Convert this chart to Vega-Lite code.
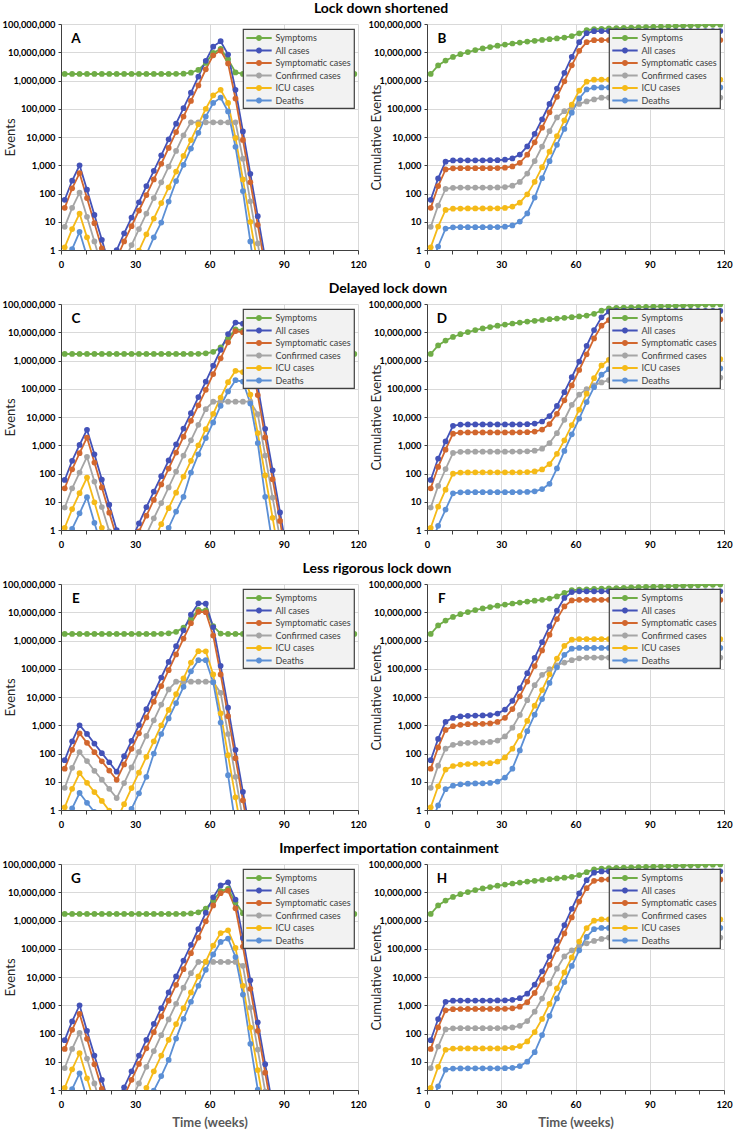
{
"$schema": "https://vega.github.io/schema/vega-lite/v6.json",
"background": "white",
"padding": {"left": 2, "top": 2, "right": 0, "bottom": 0},
"columns": 2,
"spacing": {"row": 54, "column": 69},
"bounds": "flush",
"resolve": {"legend": {"color": "independent"}},
"datasets": {
"A": [
{"w":1.5,"symptoms":1.7e6,"all":60,"symptomatic":31,"confirmed":6.6,"icu":1.24,"deaths":0.25},
{"w":4.5,"symptoms":1.7e6,"all":283,"symptomatic":152,"confirmed":31,"icu":5.5,"deaths":1.08},
{"w":7.5,"symptoms":1.7e6,"all":1000,"symptomatic":525,"confirmed":107,"icu":19.5,"deaths":4.4},
{"w":10.5,"symptoms":1.7e6,"all":136,"symptomatic":69,"confirmed":15,"icu":2.8,"deaths":0.6},
{"w":13.5,"symptoms":1.7e6,"all":17.5,"symptomatic":8.9,"confirmed":2,"icu":0.4,"deaths":0.08},
{"w":16.5,"symptoms":1.7e6,"all":2.3,"symptomatic":1.15,"confirmed":0.25,"icu":0.06,"deaths":0.01},
{"w":19.5,"symptoms":1.7e6,"all":0.3,"symptomatic":0.3,"confirmed":0.05,"icu":0.01,"deaths":0.005},
{"w":22.5,"symptoms":1.7e6,"all":1,"symptomatic":0.5,"confirmed":0.1,"icu":0.02,"deaths":0.005},
{"w":25.5,"symptoms":1.7e6,"all":3.9,"symptomatic":2,"confirmed":0.4,"icu":0.07,"deaths":0.01},
{"w":28.5,"symptoms":1.7e6,"all":14,"symptomatic":7,"confirmed":1.5,"icu":0.26,"deaths":0.05},
{"w":31.5,"symptoms":1.7e6,"all":49,"symptomatic":25,"confirmed":5.5,"icu":0.95,"deaths":0.2},
{"w":34.5,"symptoms":1.7e6,"all":183,"symptomatic":88,"confirmed":19.5,"icu":3.6,"deaths":0.7},
{"w":37.5,"symptoms":1.7e6,"all":635,"symptomatic":315,"confirmed":69,"icu":13,"deaths":2.8},
{"w":40.5,"symptoms":1.7e6,"all":2250,"symptomatic":1130,"confirmed":250,"icu":46,"deaths":9.4},
{"w":43.5,"symptoms":1.7e6,"all":8300,"symptomatic":4100,"confirmed":900,"icu":165,"deaths":52},
{"w":46.5,"symptoms":1.72e6,"all":29500,"symptomatic":15000,"confirmed":3200,"icu":600,"deaths":275},
{"w":49.5,"symptoms":1.75e6,"all":105000,"symptomatic":53000,"confirmed":11500,"icu":2150,"deaths":1040},
{"w":52.5,"symptoms":1.89e6,"all":370000,"symptomatic":190000,"confirmed":33000,"icu":7800,"deaths":3900},
{"w":55.5,"symptoms":2.37e6,"all":1.36e6,"symptomatic":670000,"confirmed":33000,"icu":28000,"deaths":14000},
{"w":58.5,"symptoms":4.2e6,"all":5e6,"symptomatic":2.5e6,"confirmed":33000,"icu":100000,"deaths":53000},
{"w":61.5,"symptoms":9.5e6,"all":1.58e7,"symptomatic":7.8e6,"confirmed":33000,"icu":300000,"deaths":160000},
{"w":64.5,"symptoms":1.32e7,"all":2.46e7,"symptomatic":1.15e7,"confirmed":33000,"icu":470000,"deaths":250000},
{"w":67.5,"symptoms":5.7e6,"all":8.3e6,"symptomatic":4e6,"confirmed":33000,"icu":160000,"deaths":80000},
{"w":70.5,"symptoms":1.93e6,"all":470000,"symptomatic":230000,"confirmed":33000,"icu":9300,"deaths":4500},
{"w":73.5,"symptoms":1.71e6,"all":15800,"symptomatic":7900,"confirmed":1700,"icu":315,"deaths":122},
{"w":76.5,"symptoms":1.7e6,"all":500,"symptomatic":250,"confirmed":53,"icu":9.9,"deaths":2},
{"w":79.5,"symptoms":1.7e6,"all":15.7,"symptomatic":7.8,"confirmed":1.7,"icu":0.3,"deaths":0.03},
{"w":82.5,"symptoms":1.7e6,"all":0.5,"symptomatic":0.25,"confirmed":0.05},
{"w":85.5,"symptoms":1.7e6},{"w":88.5,"symptoms":1.7e6},{"w":91.5,"symptoms":1.7e6},{"w":94.5,"symptoms":1.7e6},
{"w":97.5,"symptoms":1.7e6},{"w":100.5,"symptoms":1.7e6},{"w":103.5,"symptoms":1.7e6},{"w":106.5,"symptoms":1.7e6},
{"w":109.5,"symptoms":1.7e6},{"w":112.5,"symptoms":1.7e6},{"w":115.5,"symptoms":1.7e6},{"w":118.5,"symptoms":1.7e6}
],
"B": [
{"w":1.5,"symptoms":1.7e6,"all":60,"symptomatic":31,"confirmed":6.6,"icu":1.24,"deaths":0.25},
{"w":4.5,"symptoms":3.4e6,"all":343,"symptomatic":183,"confirmed":37.6,"icu":6.74,"deaths":1.33},
{"w":7.5,"symptoms":5.1e6,"all":1343,"symptomatic":708,"confirmed":144.6,"icu":26.2,"deaths":5.73},
{"w":10.5,"symptoms":6.8e6,"all":1479,"symptomatic":777,"confirmed":159.6,"icu":29,"deaths":6.33},
{"w":13.5,"symptoms":8.5e6,"all":1497,"symptomatic":786,"confirmed":161.6,"icu":29.4,"deaths":6.41},
{"w":16.5,"symptoms":1.02e7,"all":1499,"symptomatic":787,"confirmed":161.9,"icu":29.5,"deaths":6.42},
{"w":19.5,"symptoms":1.19e7,"all":1499,"symptomatic":787,"confirmed":161.9,"icu":29.5,"deaths":6.42},
{"w":22.5,"symptoms":1.36e7,"all":1500,"symptomatic":788,"confirmed":162,"icu":29.5,"deaths":6.42},
{"w":25.5,"symptoms":1.53e7,"all":1504,"symptomatic":790,"confirmed":162.4,"icu":29.6,"deaths":6.43},
{"w":28.5,"symptoms":1.7e7,"all":1518,"symptomatic":797,"confirmed":163.9,"icu":29.9,"deaths":6.48},
{"w":31.5,"symptoms":1.87e7,"all":1567,"symptomatic":822,"confirmed":169.4,"icu":30.8,"deaths":6.68},
{"w":34.5,"symptoms":2.04e7,"all":1750,"symptomatic":910,"confirmed":188.9,"icu":34.4,"deaths":7.38},
{"w":37.5,"symptoms":2.21e7,"all":2385,"symptomatic":1225,"confirmed":257.9,"icu":47.4,"deaths":10.2},
{"w":40.5,"symptoms":2.38e7,"all":4635,"symptomatic":2355,"confirmed":507.9,"icu":93.4,"deaths":19.6},
{"w":43.5,"symptoms":2.55e7,"all":12935,"symptomatic":6455,"confirmed":1408,"icu":258,"deaths":71.6},
{"w":46.5,"symptoms":2.72e7,"all":42435,"symptomatic":21455,"confirmed":4608,"icu":858,"deaths":347},
{"w":49.5,"symptoms":2.897e7,"all":147435,"symptomatic":74455,"confirmed":16108,"icu":3008,"deaths":1387},
{"w":52.5,"symptoms":3.086e7,"all":517435,"symptomatic":264455,"confirmed":49108,"icu":10808,"deaths":5287},
{"w":55.5,"symptoms":3.323e7,"all":1877435,"symptomatic":934455,"confirmed":82108,"icu":38808,"deaths":19287},
{"w":58.5,"symptoms":3.743e7,"all":6877435,"symptomatic":3434455,"confirmed":115108,"icu":138808,"deaths":72287},
{"w":61.5,"symptoms":4.693e7,"all":22677435,"symptomatic":11234455,"confirmed":148108,"icu":438808,"deaths":232287},
{"w":64.5,"symptoms":6.013e7,"all":47277435,"symptomatic":22734455,"confirmed":181108,"icu":908808,"deaths":482287},
{"w":67.5,"symptoms":6.583e7,"all":55577435,"symptomatic":26734455,"confirmed":214108,"icu":1068808,"deaths":562287},
{"w":70.5,"symptoms":6.777e7,"all":56047435,"symptomatic":26964455,"confirmed":247108,"icu":1078108,"deaths":566787},
{"w":73.5,"symptoms":6.947e7,"all":56063235,"symptomatic":26972355,"confirmed":248808,"icu":1078423,"deaths":566909},
{"w":76.5,"symptoms":7.117e7,"all":56063735,"symptomatic":26972605,"confirmed":248861,"icu":1078433,"deaths":566911},
{"w":79.5,"symptoms":7.287e7,"all":56063751,"symptomatic":26972613,"confirmed":248863,"icu":1078433,"deaths":566911},
{"w":82.5,"symptoms":7.457e7,"all":56063751,"symptomatic":26972613,"confirmed":248863,"icu":1078433,"deaths":566911},
{"w":85.5,"symptoms":7.627e7,"all":56063751,"symptomatic":26972613,"confirmed":248863,"icu":1078433,"deaths":566911},
{"w":88.5,"symptoms":7.797e7,"all":56063751,"symptomatic":26972613,"confirmed":248863,"icu":1078433,"deaths":566911},
{"w":91.5,"symptoms":7.967e7,"all":56063751,"symptomatic":26972613,"confirmed":248863,"icu":1078433,"deaths":566911},
{"w":94.5,"symptoms":8.137e7,"all":56063751,"symptomatic":26972613,"confirmed":248863,"icu":1078433,"deaths":566911},
{"w":97.5,"symptoms":8.307e7,"all":56063751,"symptomatic":26972613,"confirmed":248863,"icu":1078433,"deaths":566911},
{"w":100.5,"symptoms":8.477e7,"all":56063751,"symptomatic":26972613,"confirmed":248863,"icu":1078433,"deaths":566911},
{"w":103.5,"symptoms":8.647e7,"all":56063751,"symptomatic":26972613,"confirmed":248863,"icu":1078433,"deaths":566911},
{"w":106.5,"symptoms":8.817e7,"all":56063751,"symptomatic":26972613,"confirmed":248863,"icu":1078433,"deaths":566911},
{"w":109.5,"symptoms":8.987e7,"all":56063751,"symptomatic":26972613,"confirmed":248863,"icu":1078433,"deaths":566911},
{"w":112.5,"symptoms":9.157e7,"all":56063751,"symptomatic":26972613,"confirmed":248863,"icu":1078433,"deaths":566911},
{"w":115.5,"symptoms":9.327e7,"all":56063751,"symptomatic":26972613,"confirmed":248863,"icu":1078433,"deaths":566911},
{"w":118.5,"symptoms":9.497e7,"all":56063751,"symptomatic":26972613,"confirmed":248863,"icu":1078433,"deaths":566911}
],
"C": [
{"w":1.5,"symptoms":1.7e6,"all":59,"symptomatic":30,"confirmed":6.2,"icu":1.2,"deaths":0.3},
{"w":4.5,"symptoms":1.7e6,"all":280,"symptomatic":141,"confirmed":30,"icu":5.5,"deaths":1.1},
{"w":7.5,"symptoms":1.7e6,"all":1030,"symptomatic":525,"confirmed":108,"icu":20,"deaths":3.9},
{"w":10.5,"symptoms":1.7e6,"all":3530,"symptomatic":1870,"confirmed":390,"icu":72,"deaths":14.5},
{"w":13.5,"symptoms":1.7e6,"all":480,"symptomatic":245,"confirmed":52,"icu":9.6,"deaths":1.8},
{"w":16.5,"symptoms":1.7e6,"all":61,"symptomatic":32,"confirmed":6.5,"icu":1.2,"deaths":0.25},
{"w":19.5,"symptoms":1.7e6,"all":7.9,"symptomatic":4.1,"confirmed":0.9,"icu":0.15,"deaths":0.03},
{"w":22.5,"symptoms":1.7e6,"all":1,"symptomatic":0.55,"confirmed":0.12,"icu":0.02,"deaths":0.005},
{"w":25.5,"symptoms":1.7e6,"all":0.13,"symptomatic":0.07,"confirmed":0.02,"icu":0.003,"deaths":0.001},
{"w":28.5,"symptoms":1.7e6,"all":0.46,"symptomatic":0.25,"confirmed":0.05,"icu":0.01,"deaths":0.002},
{"w":31.5,"symptoms":1.7e6,"all":1.7,"symptomatic":0.9,"confirmed":0.2,"icu":0.04,"deaths":0.01},
{"w":34.5,"symptoms":1.7e6,"all":6.4,"symptomatic":3.2,"confirmed":0.7,"icu":0.13,"deaths":0.03},
{"w":37.5,"symptoms":1.7e6,"all":23,"symptomatic":11.6,"confirmed":2.6,"icu":0.45,"deaths":0.1},
{"w":40.5,"symptoms":1.7e6,"all":80,"symptomatic":41,"confirmed":9,"icu":1.6,"deaths":0.3},
{"w":43.5,"symptoms":1.7e6,"all":290,"symptomatic":150,"confirmed":32,"icu":5.9,"deaths":1.2},
{"w":46.5,"symptoms":1.7e6,"all":1080,"symptomatic":550,"confirmed":117,"icu":21,"deaths":4.5},
{"w":49.5,"symptoms":1.7e6,"all":3900,"symptomatic":2000,"confirmed":430,"icu":78,"deaths":15},
{"w":52.5,"symptoms":1.71e6,"all":13700,"symptomatic":7300,"confirmed":1500,"icu":280,"deaths":108},
{"w":55.5,"symptoms":1.73e6,"all":51000,"symptomatic":26000,"confirmed":5300,"icu":1000,"deaths":480},
{"w":58.5,"symptoms":1.79e6,"all":180000,"symptomatic":92000,"confirmed":19000,"icu":3700,"deaths":1800},
{"w":61.5,"symptoms":2.03e6,"all":660000,"symptomatic":330000,"confirmed":35000,"icu":13000,"deaths":6400},
{"w":64.5,"symptoms":2.9e6,"all":2.4e6,"symptomatic":1.2e6,"confirmed":35000,"icu":49000,"deaths":25000},
{"w":67.5,"symptoms":6.1e6,"all":8.6e6,"symptomatic":4.4e6,"confirmed":35000,"icu":170000,"deaths":80000},
{"w":70.5,"symptoms":1.27e7,"all":2.2e7,"symptomatic":1.1e7,"confirmed":35000,"icu":430000,"deaths":200000},
{"w":73.5,"symptoms":1.17e7,"all":2e7,"symptomatic":1e7,"confirmed":35000,"icu":390000,"deaths":180000},
{"w":76.5,"symptoms":3.2e6,"all":3e6,"symptomatic":1.5e6,"confirmed":35000,"icu":62000,"deaths":30000},
{"w":79.5,"symptoms":1.76e6,"all":120000,"symptomatic":60000,"confirmed":12600,"icu":2700,"deaths":1200},
{"w":82.5,"symptoms":1.7e6,"all":3800,"symptomatic":1900,"confirmed":430,"icu":85,"deaths":15},
{"w":85.5,"symptoms":1.7e6,"all":130,"symptomatic":63,"confirmed":14,"icu":2.7,"deaths":0.3},
{"w":88.5,"symptoms":1.7e6,"all":4.2,"symptomatic":2.1,"confirmed":0.5,"icu":0.08},
{"w":91.5,"symptoms":1.7e6,"all":0.13,"symptomatic":0.06},
{"w":94.5,"symptoms":1.7e6},{"w":97.5,"symptoms":1.7e6},{"w":100.5,"symptoms":1.7e6},{"w":103.5,"symptoms":1.7e6},
{"w":106.5,"symptoms":1.7e6},{"w":109.5,"symptoms":1.7e6},{"w":112.5,"symptoms":1.7e6},{"w":115.5,"symptoms":1.7e6},{"w":118.5,"symptoms":1.7e6}
],
"D": [
{"w":1.5,"symptoms":1.7e6,"all":59,"symptomatic":30,"confirmed":6.2,"icu":1.2,"deaths":0.3},
{"w":4.5,"symptoms":3.4e6,"all":339,"symptomatic":171,"confirmed":36.2,"icu":6.7,"deaths":1.4},
{"w":7.5,"symptoms":5.1e6,"all":1369,"symptomatic":696,"confirmed":144,"icu":26.7,"deaths":5.3},
{"w":10.5,"symptoms":6.8e6,"all":4899,"symptomatic":2566,"confirmed":534,"icu":98.7,"deaths":19.8},
{"w":13.5,"symptoms":8.5e6,"all":5379,"symptomatic":2811,"confirmed":586,"icu":108.3,"deaths":21.6},
{"w":16.5,"symptoms":1.02e7,"all":5440,"symptomatic":2843,"confirmed":593,"icu":109.5,"deaths":21.85},
{"w":19.5,"symptoms":1.19e7,"all":5448,"symptomatic":2847,"confirmed":594,"icu":109.7,"deaths":21.88},
{"w":22.5,"symptoms":1.36e7,"all":5449,"symptomatic":2848,"confirmed":594,"icu":109.7,"deaths":21.9},
{"w":25.5,"symptoms":1.53e7,"all":5449,"symptomatic":2848,"confirmed":594,"icu":109.7,"deaths":21.9},
{"w":28.5,"symptoms":1.7e7,"all":5449,"symptomatic":2848,"confirmed":594,"icu":109.7,"deaths":21.9},
{"w":31.5,"symptoms":1.87e7,"all":5451,"symptomatic":2849,"confirmed":594,"icu":109.7,"deaths":21.9},
{"w":34.5,"symptoms":2.04e7,"all":5457,"symptomatic":2852,"confirmed":595,"icu":109.8,"deaths":21.9},
{"w":37.5,"symptoms":2.21e7,"all":5480,"symptomatic":2864,"confirmed":598,"icu":110.3,"deaths":22},
{"w":40.5,"symptoms":2.38e7,"all":5560,"symptomatic":2905,"confirmed":607,"icu":111.9,"deaths":22.3},
{"w":43.5,"symptoms":2.55e7,"all":5850,"symptomatic":3055,"confirmed":639,"icu":117.8,"deaths":23.5},
{"w":46.5,"symptoms":2.72e7,"all":6930,"symptomatic":3605,"confirmed":756,"icu":138.8,"deaths":28},
{"w":49.5,"symptoms":2.89e7,"all":10830,"symptomatic":5605,"confirmed":1186,"icu":216.8,"deaths":43},
{"w":52.5,"symptoms":3.061e7,"all":24530,"symptomatic":12905,"confirmed":2686,"icu":496.8,"deaths":151},
{"w":55.5,"symptoms":3.234e7,"all":75530,"symptomatic":38905,"confirmed":7986,"icu":1497,"deaths":631},
{"w":58.5,"symptoms":3.413e7,"all":255530,"symptomatic":130905,"confirmed":26986,"icu":5197,"deaths":2431},
{"w":61.5,"symptoms":3.616e7,"all":915530,"symptomatic":460905,"confirmed":61986,"icu":18197,"deaths":8831},
{"w":64.5,"symptoms":3.906e7,"all":3315530,"symptomatic":1660905,"confirmed":96986,"icu":67197,"deaths":33831},
{"w":67.5,"symptoms":4.516e7,"all":11915530,"symptomatic":6060905,"confirmed":131986,"icu":237197,"deaths":113831},
{"w":70.5,"symptoms":5.786e7,"all":33915530,"symptomatic":17060905,"confirmed":166986,"icu":667197,"deaths":313831},
{"w":73.5,"symptoms":6.956e7,"all":53915530,"symptomatic":27060905,"confirmed":201986,"icu":1057197,"deaths":493831},
{"w":76.5,"symptoms":7.276e7,"all":56915530,"symptomatic":28560905,"confirmed":236986,"icu":1119197,"deaths":523831},
{"w":79.5,"symptoms":7.452e7,"all":57035530,"symptomatic":28620905,"confirmed":249586,"icu":1121897,"deaths":525031},
{"w":82.5,"symptoms":7.622e7,"all":57039330,"symptomatic":28622805,"confirmed":250016,"icu":1121982,"deaths":525046},
{"w":85.5,"symptoms":7.792e7,"all":57039460,"symptomatic":28622868,"confirmed":250030,"icu":1121985,"deaths":525046},
{"w":88.5,"symptoms":7.962e7,"all":57039464,"symptomatic":28622870,"confirmed":250031,"icu":1121985,"deaths":525046},
{"w":91.5,"symptoms":8.132e7,"all":57039464,"symptomatic":28622870,"confirmed":250031,"icu":1121985,"deaths":525046},
{"w":94.5,"symptoms":8.302e7,"all":57039464,"symptomatic":28622870,"confirmed":250031,"icu":1121985,"deaths":525046},
{"w":97.5,"symptoms":8.472e7,"all":57039464,"symptomatic":28622870,"confirmed":250031,"icu":1121985,"deaths":525046},
{"w":100.5,"symptoms":8.642e7,"all":57039464,"symptomatic":28622870,"confirmed":250031,"icu":1121985,"deaths":525046},
{"w":103.5,"symptoms":8.812e7,"all":57039464,"symptomatic":28622870,"confirmed":250031,"icu":1121985,"deaths":525046},
{"w":106.5,"symptoms":8.982e7,"all":57039464,"symptomatic":28622870,"confirmed":250031,"icu":1121985,"deaths":525046},
{"w":109.5,"symptoms":9.152e7,"all":57039464,"symptomatic":28622870,"confirmed":250031,"icu":1121985,"deaths":525046},
{"w":112.5,"symptoms":9.322e7,"all":57039464,"symptomatic":28622870,"confirmed":250031,"icu":1121985,"deaths":525046},
{"w":115.5,"symptoms":9.492e7,"all":57039464,"symptomatic":28622870,"confirmed":250031,"icu":1121985,"deaths":525046},
{"w":118.5,"symptoms":9.662e7,"all":57039464,"symptomatic":28622870,"confirmed":250031,"icu":1121985,"deaths":525046}
],
"E": [
{"w":1.5,"symptoms":1.7e6,"all":58,"symptomatic":29,"confirmed":6.1,"icu":1.24,"deaths":0.3},
{"w":4.5,"symptoms":1.7e6,"all":270,"symptomatic":135,"confirmed":31,"icu":5.65,"deaths":1.15},
{"w":7.5,"symptoms":1.7e6,"all":1000,"symptomatic":520,"confirmed":111,"icu":20,"deaths":4},
{"w":10.5,"symptoms":1.7e6,"all":495,"symptomatic":238,"confirmed":54,"icu":9.2,"deaths":1.8},
{"w":13.5,"symptoms":1.7e6,"all":225,"symptomatic":111,"confirmed":24.5,"icu":4.3,"deaths":0.85},
{"w":16.5,"symptoms":1.7e6,"all":103,"symptomatic":53,"confirmed":11.8,"icu":2.1,"deaths":0.4},
{"w":19.5,"symptoms":1.7e6,"all":49,"symptomatic":25,"confirmed":5.6,"icu":0.95,"deaths":0.19},
{"w":22.5,"symptoms":1.7e6,"all":22.6,"symptomatic":11.7,"confirmed":2.65,"icu":0.45,"deaths":0.09},
{"w":25.5,"symptoms":1.7e6,"all":80,"symptomatic":41,"confirmed":9,"icu":1.6,"deaths":0.3},
{"w":28.5,"symptoms":1.7e6,"all":280,"symptomatic":146,"confirmed":32,"icu":6,"deaths":1.1},
{"w":31.5,"symptoms":1.7e6,"all":1020,"symptomatic":520,"confirmed":114,"icu":21,"deaths":3.9},
{"w":34.5,"symptoms":1.7e6,"all":3700,"symptomatic":1900,"confirmed":420,"icu":76,"deaths":15},
{"w":37.5,"symptoms":1.71e6,"all":13500,"symptomatic":6800,"confirmed":1500,"icu":270,"deaths":100},
{"w":40.5,"symptoms":1.72e6,"all":49000,"symptomatic":24500,"confirmed":5400,"icu":1000,"deaths":490},
{"w":43.5,"symptoms":1.79e6,"all":175000,"symptomatic":89000,"confirmed":18500,"icu":3500,"deaths":1750},
{"w":46.5,"symptoms":2.02e6,"all":630000,"symptomatic":320000,"confirmed":35000,"icu":12700,"deaths":6100},
{"w":49.5,"symptoms":2.87e6,"all":2.3e6,"symptomatic":1.17e6,"confirmed":35000,"icu":46000,"deaths":23000},
{"w":52.5,"symptoms":5.8e6,"all":8.2e6,"symptomatic":4.1e6,"confirmed":35000,"icu":165000,"deaths":81000},
{"w":55.5,"symptoms":1.21e7,"all":2.07e7,"symptomatic":1.04e7,"confirmed":35000,"icu":420000,"deaths":200000},
{"w":58.5,"symptoms":1.17e7,"all":2e7,"symptomatic":1e7,"confirmed":35000,"icu":415000,"deaths":200000},
{"w":61.5,"symptoms":3.2e6,"all":3e6,"symptomatic":1.5e6,"confirmed":34000,"icu":63000,"deaths":33000},
{"w":64.5,"symptoms":1.76e6,"all":127000,"symptomatic":63000,"confirmed":14000,"icu":2650,"deaths":1250},
{"w":67.5,"symptoms":1.7e6,"all":4200,"symptomatic":2100,"confirmed":490,"icu":87,"deaths":17},
{"w":70.5,"symptoms":1.7e6,"all":135,"symptomatic":68,"confirmed":15,"icu":2.8,"deaths":0.3},
{"w":73.5,"symptoms":1.7e6,"all":4.4,"symptomatic":2.2,"confirmed":0.45,"icu":0.09},
{"w":76.5,"symptoms":1.7e6,"all":0.15,"symptomatic":0.07},
{"w":79.5,"symptoms":1.7e6},{"w":82.5,"symptoms":1.7e6},{"w":85.5,"symptoms":1.7e6},{"w":88.5,"symptoms":1.7e6},
{"w":91.5,"symptoms":1.7e6},{"w":94.5,"symptoms":1.7e6},{"w":97.5,"symptoms":1.7e6},{"w":100.5,"symptoms":1.7e6},
{"w":103.5,"symptoms":1.7e6},{"w":106.5,"symptoms":1.7e6},{"w":109.5,"symptoms":1.7e6},{"w":112.5,"symptoms":1.7e6},
{"w":115.5,"symptoms":1.7e6},{"w":118.5,"symptoms":1.7e6}
],
"F": [
{"w":1.5,"symptoms":1.7e6,"all":58,"symptomatic":29,"confirmed":6.1,"icu":1.24,"deaths":0.3},
{"w":4.5,"symptoms":3.4e6,"all":328,"symptomatic":164,"confirmed":37.1,"icu":6.89,"deaths":1.45},
{"w":7.5,"symptoms":5.1e6,"all":1328,"symptomatic":684,"confirmed":148,"icu":26.9,"deaths":5.45},
{"w":10.5,"symptoms":6.8e6,"all":1823,"symptomatic":922,"confirmed":202,"icu":36.1,"deaths":7.25},
{"w":13.5,"symptoms":8.5e6,"all":2048,"symptomatic":1033,"confirmed":227,"icu":40.4,"deaths":8.1},
{"w":16.5,"symptoms":1.02e7,"all":2151,"symptomatic":1086,"confirmed":238,"icu":42.5,"deaths":8.5},
{"w":19.5,"symptoms":1.19e7,"all":2200,"symptomatic":1111,"confirmed":244,"icu":43.4,"deaths":8.69},
{"w":22.5,"symptoms":1.36e7,"all":2223,"symptomatic":1123,"confirmed":247,"icu":43.9,"deaths":8.78},
{"w":25.5,"symptoms":1.53e7,"all":2303,"symptomatic":1164,"confirmed":256,"icu":45.5,"deaths":9.08},
{"w":28.5,"symptoms":1.7e7,"all":2583,"symptomatic":1310,"confirmed":288,"icu":51.5,"deaths":10.2},
{"w":31.5,"symptoms":1.87e7,"all":3603,"symptomatic":1830,"confirmed":402,"icu":72.5,"deaths":14.1},
{"w":34.5,"symptoms":2.04e7,"all":7303,"symptomatic":3730,"confirmed":822,"icu":148.5,"deaths":29.1},
{"w":37.5,"symptoms":2.211e7,"all":20803,"symptomatic":10530,"confirmed":2322,"icu":418.5,"deaths":129},
{"w":40.5,"symptoms":2.384e7,"all":69803,"symptomatic":35030,"confirmed":7722,"icu":1418,"deaths":619},
{"w":43.5,"symptoms":2.562e7,"all":244803,"symptomatic":124030,"confirmed":26222,"icu":4918,"deaths":2369},
{"w":46.5,"symptoms":2.764e7,"all":874803,"symptomatic":444030,"confirmed":61222,"icu":17618,"deaths":8469},
{"w":49.5,"symptoms":3.051e7,"all":3174803,"symptomatic":1614030,"confirmed":96222,"icu":63618,"deaths":31469},
{"w":52.5,"symptoms":3.631e7,"all":11374803,"symptomatic":5714030,"confirmed":131222,"icu":228618,"deaths":112469},
{"w":55.5,"symptoms":4.841e7,"all":32074803,"symptomatic":16114030,"confirmed":166222,"icu":648618,"deaths":312469},
{"w":58.5,"symptoms":6.011e7,"all":52074803,"symptomatic":26114030,"confirmed":201222,"icu":1063618,"deaths":512469},
{"w":61.5,"symptoms":6.331e7,"all":55074803,"symptomatic":27614030,"confirmed":235222,"icu":1126618,"deaths":545469},
{"w":64.5,"symptoms":6.508e7,"all":55201803,"symptomatic":27677030,"confirmed":249222,"icu":1129268,"deaths":546719},
{"w":67.5,"symptoms":6.678e7,"all":55206003,"symptomatic":27679130,"confirmed":249712,"icu":1129355,"deaths":546736},
{"w":70.5,"symptoms":6.848e7,"all":55206138,"symptomatic":27679198,"confirmed":249727,"icu":1129358,"deaths":546736},
{"w":73.5,"symptoms":7.018e7,"all":55206142,"symptomatic":27679200,"confirmed":249728,"icu":1129358,"deaths":546736},
{"w":76.5,"symptoms":7.188e7,"all":55206142,"symptomatic":27679200,"confirmed":249728,"icu":1129358,"deaths":546736},
{"w":79.5,"symptoms":7.358e7,"all":55206142,"symptomatic":27679200,"confirmed":249728,"icu":1129358,"deaths":546736},
{"w":82.5,"symptoms":7.528e7,"all":55206142,"symptomatic":27679200,"confirmed":249728,"icu":1129358,"deaths":546736},
{"w":85.5,"symptoms":7.698e7,"all":55206142,"symptomatic":27679200,"confirmed":249728,"icu":1129358,"deaths":546736},
{"w":88.5,"symptoms":7.868e7,"all":55206142,"symptomatic":27679200,"confirmed":249728,"icu":1129358,"deaths":546736},
{"w":91.5,"symptoms":8.038e7,"all":55206142,"symptomatic":27679200,"confirmed":249728,"icu":1129358,"deaths":546736},
{"w":94.5,"symptoms":8.208e7,"all":55206142,"symptomatic":27679200,"confirmed":249728,"icu":1129358,"deaths":546736},
{"w":97.5,"symptoms":8.378e7,"all":55206142,"symptomatic":27679200,"confirmed":249728,"icu":1129358,"deaths":546736},
{"w":100.5,"symptoms":8.548e7,"all":55206142,"symptomatic":27679200,"confirmed":249728,"icu":1129358,"deaths":546736},
{"w":103.5,"symptoms":8.718e7,"all":55206142,"symptomatic":27679200,"confirmed":249728,"icu":1129358,"deaths":546736},
{"w":106.5,"symptoms":8.888e7,"all":55206142,"symptomatic":27679200,"confirmed":249728,"icu":1129358,"deaths":546736},
{"w":109.5,"symptoms":9.058e7,"all":55206142,"symptomatic":27679200,"confirmed":249728,"icu":1129358,"deaths":546736},
{"w":112.5,"symptoms":9.228e7,"all":55206142,"symptomatic":27679200,"confirmed":249728,"icu":1129358,"deaths":546736},
{"w":115.5,"symptoms":9.398e7,"all":55206142,"symptomatic":27679200,"confirmed":249728,"icu":1129358,"deaths":546736},
{"w":118.5,"symptoms":9.568e7,"all":55206142,"symptomatic":27679200,"confirmed":249728,"icu":1129358,"deaths":546736}
],
"G": [
{"w":1.5,"symptoms":1.7e6,"all":58,"symptomatic":28.5,"confirmed":6,"icu":1.2,"deaths":0.27},
{"w":4.5,"symptoms":1.7e6,"all":267,"symptomatic":135,"confirmed":28.5,"icu":5.4,"deaths":1.08},
{"w":7.5,"symptoms":1.7e6,"all":1000,"symptomatic":500,"confirmed":105,"icu":20,"deaths":3.9},
{"w":10.5,"symptoms":1.7e6,"all":124,"symptomatic":65,"confirmed":13,"icu":2.6,"deaths":0.5},
{"w":13.5,"symptoms":1.7e6,"all":16.5,"symptomatic":8.1,"confirmed":1.7,"icu":0.35,"deaths":0.07},
{"w":16.5,"symptoms":1.7e6,"all":2.3,"symptomatic":1.1,"confirmed":0.22,"icu":0.05,"deaths":0.01},
{"w":19.5,"symptoms":1.7e6,"all":0.3,"symptomatic":0.15,"confirmed":0.03,"icu":0.01,"deaths":0.003},
{"w":22.5,"symptoms":1.7e6,"all":0.5,"symptomatic":0.25,"confirmed":0.05,"icu":0.01,"deaths":0.003},
{"w":25.5,"symptoms":1.7e6,"all":1.24,"symptomatic":0.6,"confirmed":0.13,"icu":0.03,"deaths":0.005},
{"w":28.5,"symptoms":1.7e6,"all":4.6,"symptomatic":2.3,"confirmed":0.47,"icu":0.09,"deaths":0.02},
{"w":31.5,"symptoms":1.7e6,"all":16.5,"symptomatic":8.4,"confirmed":1.7,"icu":0.33,"deaths":0.05},
{"w":34.5,"symptoms":1.7e6,"all":60,"symptomatic":30,"confirmed":6.6,"icu":1.2,"deaths":0.15},
{"w":37.5,"symptoms":1.7e6,"all":220,"symptomatic":111,"confirmed":24,"icu":4.6,"deaths":0.95},
{"w":40.5,"symptoms":1.7e6,"all":790,"symptomatic":400,"confirmed":87,"icu":16.5,"deaths":3.1},
{"w":43.5,"symptoms":1.7e6,"all":2850,"symptomatic":1450,"confirmed":315,"icu":60,"deaths":11.6},
{"w":46.5,"symptoms":1.71e6,"all":10500,"symptomatic":5300,"confirmed":1130,"icu":215,"deaths":66},
{"w":49.5,"symptoms":1.72e6,"all":38000,"symptomatic":19000,"confirmed":4200,"icu":790,"deaths":330},
{"w":52.5,"symptoms":1.77e6,"all":138000,"symptomatic":70000,"confirmed":13700,"icu":2850,"deaths":1330},
{"w":55.5,"symptoms":1.95e6,"all":500000,"symptomatic":250000,"confirmed":34000,"icu":10500,"deaths":4900},
{"w":58.5,"symptoms":2.64e6,"all":1.9e6,"symptomatic":940000,"confirmed":34000,"icu":35000,"deaths":18000},
{"w":61.5,"symptoms":5.1e6,"all":6.6e6,"symptomatic":3.4e6,"confirmed":34000,"icu":130000,"deaths":63000},
{"w":64.5,"symptoms":1.1e7,"all":1.75e7,"symptomatic":9.3e6,"confirmed":34000,"icu":360000,"deaths":175000},
{"w":67.5,"symptoms":1.32e7,"all":2.25e7,"symptomatic":1.15e7,"confirmed":34000,"icu":450000,"deaths":230000},
{"w":70.5,"symptoms":4.4e6,"all":5.5e6,"symptomatic":2.7e6,"confirmed":34000,"icu":107000,"deaths":51000},
{"w":73.5,"symptoms":1.82e6,"all":240000,"symptomatic":120000,"confirmed":25000,"icu":4900,"deaths":2400},
{"w":76.5,"symptoms":1.7e6,"all":7600,"symptomatic":3800,"confirmed":830,"icu":163,"deaths":43},
{"w":79.5,"symptoms":1.7e6,"all":250,"symptomatic":125,"confirmed":27,"icu":5.1,"deaths":1.03},
{"w":82.5,"symptoms":1.7e6,"all":8.2,"symptomatic":4.1,"confirmed":0.9,"icu":0.16,"deaths":0.02},
{"w":85.5,"symptoms":1.7e6,"all":0.27,"symptomatic":0.13,"confirmed":0.03},
{"w":88.5,"symptoms":1.7e6},{"w":91.5,"symptoms":1.7e6},{"w":94.5,"symptoms":1.7e6},{"w":97.5,"symptoms":1.7e6},
{"w":100.5,"symptoms":1.7e6},{"w":103.5,"symptoms":1.7e6},{"w":106.5,"symptoms":1.7e6},{"w":109.5,"symptoms":1.7e6},
{"w":112.5,"symptoms":1.7e6},{"w":115.5,"symptoms":1.7e6},{"w":118.5,"symptoms":1.7e6}
],
"H": [
{"w":1.5,"symptoms":1.7e6,"all":58,"symptomatic":28.5,"confirmed":6,"icu":1.2,"deaths":0.27},
{"w":4.5,"symptoms":3.4e6,"all":325,"symptomatic":163.5,"confirmed":34.5,"icu":6.6,"deaths":1.35},
{"w":7.5,"symptoms":5.1e6,"all":1325,"symptomatic":663.5,"confirmed":139.5,"icu":26.6,"deaths":5.25},
{"w":10.5,"symptoms":6.8e6,"all":1449,"symptomatic":728.5,"confirmed":152.5,"icu":29.2,"deaths":5.75},
{"w":13.5,"symptoms":8.5e6,"all":1466,"symptomatic":736.6,"confirmed":154.2,"icu":29.55,"deaths":5.82},
{"w":16.5,"symptoms":1.02e7,"all":1468,"symptomatic":737.7,"confirmed":154.4,"icu":29.6,"deaths":5.83},
{"w":19.5,"symptoms":1.19e7,"all":1468,"symptomatic":737.9,"confirmed":154.4,"icu":29.6,"deaths":5.84},
{"w":22.5,"symptoms":1.36e7,"all":1469,"symptomatic":738.1,"confirmed":154.5,"icu":29.6,"deaths":5.84},
{"w":25.5,"symptoms":1.53e7,"all":1470,"symptomatic":738.7,"confirmed":154.6,"icu":29.65,"deaths":5.85},
{"w":28.5,"symptoms":1.7e7,"all":1475,"symptomatic":741,"confirmed":155.1,"icu":29.7,"deaths":5.87},
{"w":31.5,"symptoms":1.87e7,"all":1491,"symptomatic":749.4,"confirmed":156.8,"icu":30.1,"deaths":5.92},
{"w":34.5,"symptoms":2.04e7,"all":1551,"symptomatic":779.4,"confirmed":163.4,"icu":31.3,"deaths":6.07},
{"w":37.5,"symptoms":2.21e7,"all":1771,"symptomatic":890.4,"confirmed":187.4,"icu":35.9,"deaths":7.02},
{"w":40.5,"symptoms":2.38e7,"all":2561,"symptomatic":1290,"confirmed":274.4,"icu":52.4,"deaths":10.1},
{"w":43.5,"symptoms":2.55e7,"all":5411,"symptomatic":2740,"confirmed":589.4,"icu":112.4,"deaths":21.7},
{"w":46.5,"symptoms":2.721e7,"all":15911,"symptomatic":8040,"confirmed":1719,"icu":327.4,"deaths":87.7},
{"w":49.5,"symptoms":2.893e7,"all":53911,"symptomatic":27040,"confirmed":5919,"icu":1117,"deaths":418},
{"w":52.5,"symptoms":3.07e7,"all":191911,"symptomatic":97040,"confirmed":19619,"icu":3967,"deaths":1748},
{"w":55.5,"symptoms":3.265e7,"all":691911,"symptomatic":347040,"confirmed":53619,"icu":14467,"deaths":6648},
{"w":58.5,"symptoms":3.529e7,"all":2591911,"symptomatic":1287040,"confirmed":87619,"icu":49467,"deaths":24648},
{"w":61.5,"symptoms":4.039e7,"all":9191911,"symptomatic":4687040,"confirmed":121619,"icu":179467,"deaths":87648},
{"w":64.5,"symptoms":5.139e7,"all":26691911,"symptomatic":13987040,"confirmed":155619,"icu":539467,"deaths":262648},
{"w":67.5,"symptoms":6.459e7,"all":49191911,"symptomatic":25487040,"confirmed":189619,"icu":989467,"deaths":492648},
{"w":70.5,"symptoms":6.899e7,"all":54691911,"symptomatic":28187040,"confirmed":223619,"icu":1096467,"deaths":543648},
{"w":73.5,"symptoms":7.081e7,"all":54931911,"symptomatic":28307040,"confirmed":248619,"icu":1101367,"deaths":546048},
{"w":76.5,"symptoms":7.251e7,"all":54939511,"symptomatic":28310840,"confirmed":249449,"icu":1101530,"deaths":546091},
{"w":79.5,"symptoms":7.421e7,"all":54939761,"symptomatic":28310965,"confirmed":249476,"icu":1101535,"deaths":546092},
{"w":82.5,"symptoms":7.591e7,"all":54939769,"symptomatic":28310969,"confirmed":249477,"icu":1101535,"deaths":546092},
{"w":85.5,"symptoms":7.761e7,"all":54939769,"symptomatic":28310969,"confirmed":249477,"icu":1101535,"deaths":546092},
{"w":88.5,"symptoms":7.931e7,"all":54939769,"symptomatic":28310969,"confirmed":249477,"icu":1101535,"deaths":546092},
{"w":91.5,"symptoms":8.101e7,"all":54939769,"symptomatic":28310969,"confirmed":249477,"icu":1101535,"deaths":546092},
{"w":94.5,"symptoms":8.271e7,"all":54939769,"symptomatic":28310969,"confirmed":249477,"icu":1101535,"deaths":546092},
{"w":97.5,"symptoms":8.441e7,"all":54939769,"symptomatic":28310969,"confirmed":249477,"icu":1101535,"deaths":546092},
{"w":100.5,"symptoms":8.611e7,"all":54939769,"symptomatic":28310969,"confirmed":249477,"icu":1101535,"deaths":546092},
{"w":103.5,"symptoms":8.781e7,"all":54939769,"symptomatic":28310969,"confirmed":249477,"icu":1101535,"deaths":546092},
{"w":106.5,"symptoms":8.951e7,"all":54939769,"symptomatic":28310969,"confirmed":249477,"icu":1101535,"deaths":546092},
{"w":109.5,"symptoms":9.121e7,"all":54939769,"symptomatic":28310969,"confirmed":249477,"icu":1101535,"deaths":546092},
{"w":112.5,"symptoms":9.291e7,"all":54939769,"symptomatic":28310969,"confirmed":249477,"icu":1101535,"deaths":546092},
{"w":115.5,"symptoms":9.461e7,"all":54939769,"symptomatic":28310969,"confirmed":249477,"icu":1101535,"deaths":546092},
{"w":118.5,"symptoms":9.631e7,"all":54939769,"symptomatic":28310969,"confirmed":249477,"icu":1101535,"deaths":546092}
]
},
"concat": [
{"title": {"text": "Lock down shortened", "dx": 171.5},
 "width": 297, "height": 226,
 "layer": [
  {"data": {"name": "A"},
   "transform": [{"fold": ["symptoms","all","symptomatic","confirmed","icu","deaths"], "as": ["series","value"]}, {"filter": "isValid(datum.value) && datum.value > 0"}],
   "encoding": {
    "x": {"field": "w", "type": "quantitative", "scale": {"domain": [0,120], "nice": false}, "axis": {"values": [0,10,20,30,40,50,60,70,80,90,100,110,120], "labelExpr": "datum.value % 30 === 0 ? datum.label : ''", "gridOpacity": {"condition": {"test": "datum.value % 30 === 0", "value": 1}, "value": 0}, "title": null}},
    "y": {"field": "value", "type": "quantitative", "scale": {"type": "log", "domain": [1,100000000], "nice": false}, "axis": {"values": [1,10,100,1000,10000,100000,1000000,10000000,100000000], "format": ",", "title": "Events"}},
    "color": {"field": "series", "type": "nominal", "scale": {"domain": ["symptoms","all","symptomatic","confirmed","icu","deaths"], "range": ["#70AD47","#4352B8","#D2672E","#A5A5A5","#F5BA18","#5B8FD5"]}, "legend": {"title": null, "labelExpr": "{'symptoms':'Symptoms','all':'All cases','symptomatic':'Symptomatic cases','confirmed':'Confirmed cases','icu':'ICU cases','deaths':'Deaths'}[datum.label]"}}
   },
   "layer": [
    {"mark": {"type": "line", "clip": true, "strokeWidth": 1.8}},
    {"mark": {"type": "point", "filled": true, "size": 33, "opacity": 1, "clip": true}}
   ]},
  {"data": {"values": [{"letter": "A"}]}, "mark": {"type": "text", "fontSize": 13.5, "fontWeight": "bold", "align": "center", "baseline": "middle"},
   "encoding": {
    "x": {"datum": 6, "type": "quantitative", "axis": {"values": [0,10,20,30,40,50,60,70,80,90,100,110,120], "labelExpr": "datum.value % 30 === 0 ? datum.label : ''", "gridOpacity": {"condition": {"test": "datum.value % 30 === 0", "value": 1}, "value": 0}, "title": null}},
    "y": {"datum": 29000000, "type": "quantitative", "axis": {"values": [1,10,100,1000,10000,100000,1000000,10000000,100000000], "format": ",", "title": "Events"}},
    "color": {"value": "black"}, "text": {"field": "letter"}}}
 ]},
{"width": 297, "height": 226,
 "layer": [
  {"data": {"name": "B"},
   "transform": [{"fold": ["symptoms","all","symptomatic","confirmed","icu","deaths"], "as": ["series","value"]}, {"filter": "isValid(datum.value) && datum.value > 0"}],
   "encoding": {
    "x": {"field": "w", "type": "quantitative", "scale": {"domain": [0,120], "nice": false}, "axis": {"values": [0,10,20,30,40,50,60,70,80,90,100,110,120], "labelExpr": "datum.value % 30 === 0 ? datum.label : ''", "gridOpacity": {"condition": {"test": "datum.value % 30 === 0", "value": 1}, "value": 0}, "title": null}},
    "y": {"field": "value", "type": "quantitative", "scale": {"type": "log", "domain": [1,100000000], "nice": false}, "axis": {"values": [1,10,100,1000,10000,100000,1000000,10000000,100000000], "format": ",", "title": "Cumulative Events"}},
    "color": {"field": "series", "type": "nominal", "scale": {"domain": ["symptoms","all","symptomatic","confirmed","icu","deaths"], "range": ["#70AD47","#4352B8","#D2672E","#A5A5A5","#F5BA18","#5B8FD5"]}, "legend": {"title": null, "labelExpr": "{'symptoms':'Symptoms','all':'All cases','symptomatic':'Symptomatic cases','confirmed':'Confirmed cases','icu':'ICU cases','deaths':'Deaths'}[datum.label]"}}
   },
   "layer": [
    {"mark": {"type": "line", "clip": true, "strokeWidth": 1.8}},
    {"mark": {"type": "point", "filled": true, "size": 33, "opacity": 1, "clip": true}}
   ]},
  {"data": {"values": [{"letter": "B"}]}, "mark": {"type": "text", "fontSize": 13.5, "fontWeight": "bold", "align": "center", "baseline": "middle"},
   "encoding": {
    "x": {"datum": 6, "type": "quantitative", "axis": {"values": [0,10,20,30,40,50,60,70,80,90,100,110,120], "labelExpr": "datum.value % 30 === 0 ? datum.label : ''", "gridOpacity": {"condition": {"test": "datum.value % 30 === 0", "value": 1}, "value": 0}, "title": null}},
    "y": {"datum": 29000000, "type": "quantitative", "axis": {"values": [1,10,100,1000,10000,100000,1000000,10000000,100000000], "format": ",", "title": "Cumulative Events"}},
    "color": {"value": "black"}, "text": {"field": "letter"}}}
 ]},
{"title": {"text": "Delayed lock down", "dx": 178.5},
 "width": 297, "height": 226,
 "layer": [
  {"data": {"name": "C"},
   "transform": [{"fold": ["symptoms","all","symptomatic","confirmed","icu","deaths"], "as": ["series","value"]}, {"filter": "isValid(datum.value) && datum.value > 0"}],
   "encoding": {
    "x": {"field": "w", "type": "quantitative", "scale": {"domain": [0,120], "nice": false}, "axis": {"values": [0,10,20,30,40,50,60,70,80,90,100,110,120], "labelExpr": "datum.value % 30 === 0 ? datum.label : ''", "gridOpacity": {"condition": {"test": "datum.value % 30 === 0", "value": 1}, "value": 0}, "title": null}},
    "y": {"field": "value", "type": "quantitative", "scale": {"type": "log", "domain": [1,100000000], "nice": false}, "axis": {"values": [1,10,100,1000,10000,100000,1000000,10000000,100000000], "format": ",", "title": "Events"}},
    "color": {"field": "series", "type": "nominal", "scale": {"domain": ["symptoms","all","symptomatic","confirmed","icu","deaths"], "range": ["#70AD47","#4352B8","#D2672E","#A5A5A5","#F5BA18","#5B8FD5"]}, "legend": {"title": null, "labelExpr": "{'symptoms':'Symptoms','all':'All cases','symptomatic':'Symptomatic cases','confirmed':'Confirmed cases','icu':'ICU cases','deaths':'Deaths'}[datum.label]"}}
   },
   "layer": [
    {"mark": {"type": "line", "clip": true, "strokeWidth": 1.8}},
    {"mark": {"type": "point", "filled": true, "size": 33, "opacity": 1, "clip": true}}
   ]},
  {"data": {"values": [{"letter": "C"}]}, "mark": {"type": "text", "fontSize": 13.5, "fontWeight": "bold", "align": "center", "baseline": "middle"},
   "encoding": {
    "x": {"datum": 6, "type": "quantitative", "axis": {"values": [0,10,20,30,40,50,60,70,80,90,100,110,120], "labelExpr": "datum.value % 30 === 0 ? datum.label : ''", "gridOpacity": {"condition": {"test": "datum.value % 30 === 0", "value": 1}, "value": 0}, "title": null}},
    "y": {"datum": 29000000, "type": "quantitative", "axis": {"values": [1,10,100,1000,10000,100000,1000000,10000000,100000000], "format": ",", "title": "Events"}},
    "color": {"value": "black"}, "text": {"field": "letter"}}}
 ]},
{"width": 297, "height": 226,
 "layer": [
  {"data": {"name": "D"},
   "transform": [{"fold": ["symptoms","all","symptomatic","confirmed","icu","deaths"], "as": ["series","value"]}, {"filter": "isValid(datum.value) && datum.value > 0"}],
   "encoding": {
    "x": {"field": "w", "type": "quantitative", "scale": {"domain": [0,120], "nice": false}, "axis": {"values": [0,10,20,30,40,50,60,70,80,90,100,110,120], "labelExpr": "datum.value % 30 === 0 ? datum.label : ''", "gridOpacity": {"condition": {"test": "datum.value % 30 === 0", "value": 1}, "value": 0}, "title": null}},
    "y": {"field": "value", "type": "quantitative", "scale": {"type": "log", "domain": [1,100000000], "nice": false}, "axis": {"values": [1,10,100,1000,10000,100000,1000000,10000000,100000000], "format": ",", "title": "Cumulative Events"}},
    "color": {"field": "series", "type": "nominal", "scale": {"domain": ["symptoms","all","symptomatic","confirmed","icu","deaths"], "range": ["#70AD47","#4352B8","#D2672E","#A5A5A5","#F5BA18","#5B8FD5"]}, "legend": {"title": null, "labelExpr": "{'symptoms':'Symptoms','all':'All cases','symptomatic':'Symptomatic cases','confirmed':'Confirmed cases','icu':'ICU cases','deaths':'Deaths'}[datum.label]"}}
   },
   "layer": [
    {"mark": {"type": "line", "clip": true, "strokeWidth": 1.8}},
    {"mark": {"type": "point", "filled": true, "size": 33, "opacity": 1, "clip": true}}
   ]},
  {"data": {"values": [{"letter": "D"}]}, "mark": {"type": "text", "fontSize": 13.5, "fontWeight": "bold", "align": "center", "baseline": "middle"},
   "encoding": {
    "x": {"datum": 6, "type": "quantitative", "axis": {"values": [0,10,20,30,40,50,60,70,80,90,100,110,120], "labelExpr": "datum.value % 30 === 0 ? datum.label : ''", "gridOpacity": {"condition": {"test": "datum.value % 30 === 0", "value": 1}, "value": 0}, "title": null}},
    "y": {"datum": 29000000, "type": "quantitative", "axis": {"values": [1,10,100,1000,10000,100000,1000000,10000000,100000000], "format": ",", "title": "Cumulative Events"}},
    "color": {"value": "black"}, "text": {"field": "letter"}}}
 ]},
{"title": {"text": "Less rigorous lock down", "dx": 167.5},
 "width": 297, "height": 226,
 "layer": [
  {"data": {"name": "E"},
   "transform": [{"fold": ["symptoms","all","symptomatic","confirmed","icu","deaths"], "as": ["series","value"]}, {"filter": "isValid(datum.value) && datum.value > 0"}],
   "encoding": {
    "x": {"field": "w", "type": "quantitative", "scale": {"domain": [0,120], "nice": false}, "axis": {"values": [0,10,20,30,40,50,60,70,80,90,100,110,120], "labelExpr": "datum.value % 30 === 0 ? datum.label : ''", "gridOpacity": {"condition": {"test": "datum.value % 30 === 0", "value": 1}, "value": 0}, "title": null}},
    "y": {"field": "value", "type": "quantitative", "scale": {"type": "log", "domain": [1,100000000], "nice": false}, "axis": {"values": [1,10,100,1000,10000,100000,1000000,10000000,100000000], "format": ",", "title": "Events"}},
    "color": {"field": "series", "type": "nominal", "scale": {"domain": ["symptoms","all","symptomatic","confirmed","icu","deaths"], "range": ["#70AD47","#4352B8","#D2672E","#A5A5A5","#F5BA18","#5B8FD5"]}, "legend": {"title": null, "labelExpr": "{'symptoms':'Symptoms','all':'All cases','symptomatic':'Symptomatic cases','confirmed':'Confirmed cases','icu':'ICU cases','deaths':'Deaths'}[datum.label]"}}
   },
   "layer": [
    {"mark": {"type": "line", "clip": true, "strokeWidth": 1.8}},
    {"mark": {"type": "point", "filled": true, "size": 33, "opacity": 1, "clip": true}}
   ]},
  {"data": {"values": [{"letter": "E"}]}, "mark": {"type": "text", "fontSize": 13.5, "fontWeight": "bold", "align": "center", "baseline": "middle"},
   "encoding": {
    "x": {"datum": 6, "type": "quantitative", "axis": {"values": [0,10,20,30,40,50,60,70,80,90,100,110,120], "labelExpr": "datum.value % 30 === 0 ? datum.label : ''", "gridOpacity": {"condition": {"test": "datum.value % 30 === 0", "value": 1}, "value": 0}, "title": null}},
    "y": {"datum": 29000000, "type": "quantitative", "axis": {"values": [1,10,100,1000,10000,100000,1000000,10000000,100000000], "format": ",", "title": "Events"}},
    "color": {"value": "black"}, "text": {"field": "letter"}}}
 ]},
{"width": 297, "height": 226,
 "layer": [
  {"data": {"name": "F"},
   "transform": [{"fold": ["symptoms","all","symptomatic","confirmed","icu","deaths"], "as": ["series","value"]}, {"filter": "isValid(datum.value) && datum.value > 0"}],
   "encoding": {
    "x": {"field": "w", "type": "quantitative", "scale": {"domain": [0,120], "nice": false}, "axis": {"values": [0,10,20,30,40,50,60,70,80,90,100,110,120], "labelExpr": "datum.value % 30 === 0 ? datum.label : ''", "gridOpacity": {"condition": {"test": "datum.value % 30 === 0", "value": 1}, "value": 0}, "title": null}},
    "y": {"field": "value", "type": "quantitative", "scale": {"type": "log", "domain": [1,100000000], "nice": false}, "axis": {"values": [1,10,100,1000,10000,100000,1000000,10000000,100000000], "format": ",", "title": "Cumulative Events"}},
    "color": {"field": "series", "type": "nominal", "scale": {"domain": ["symptoms","all","symptomatic","confirmed","icu","deaths"], "range": ["#70AD47","#4352B8","#D2672E","#A5A5A5","#F5BA18","#5B8FD5"]}, "legend": {"title": null, "labelExpr": "{'symptoms':'Symptoms','all':'All cases','symptomatic':'Symptomatic cases','confirmed':'Confirmed cases','icu':'ICU cases','deaths':'Deaths'}[datum.label]"}}
   },
   "layer": [
    {"mark": {"type": "line", "clip": true, "strokeWidth": 1.8}},
    {"mark": {"type": "point", "filled": true, "size": 33, "opacity": 1, "clip": true}}
   ]},
  {"data": {"values": [{"letter": "F"}]}, "mark": {"type": "text", "fontSize": 13.5, "fontWeight": "bold", "align": "center", "baseline": "middle"},
   "encoding": {
    "x": {"datum": 6, "type": "quantitative", "axis": {"values": [0,10,20,30,40,50,60,70,80,90,100,110,120], "labelExpr": "datum.value % 30 === 0 ? datum.label : ''", "gridOpacity": {"condition": {"test": "datum.value % 30 === 0", "value": 1}, "value": 0}, "title": null}},
    "y": {"datum": 29000000, "type": "quantitative", "axis": {"values": [1,10,100,1000,10000,100000,1000000,10000000,100000000], "format": ",", "title": "Cumulative Events"}},
    "color": {"value": "black"}, "text": {"field": "letter"}}}
 ]},
{"title": {"text": "Imperfect importation containment", "dx": 179.5},
 "width": 297, "height": 226,
 "layer": [
  {"data": {"name": "G"},
   "transform": [{"fold": ["symptoms","all","symptomatic","confirmed","icu","deaths"], "as": ["series","value"]}, {"filter": "isValid(datum.value) && datum.value > 0"}],
   "encoding": {
    "x": {"field": "w", "type": "quantitative", "scale": {"domain": [0,120], "nice": false}, "axis": {"values": [0,10,20,30,40,50,60,70,80,90,100,110,120], "labelExpr": "datum.value % 30 === 0 ? datum.label : ''", "gridOpacity": {"condition": {"test": "datum.value % 30 === 0", "value": 1}, "value": 0}, "title": "Time (weeks)"}},
    "y": {"field": "value", "type": "quantitative", "scale": {"type": "log", "domain": [1,100000000], "nice": false}, "axis": {"values": [1,10,100,1000,10000,100000,1000000,10000000,100000000], "format": ",", "title": "Events"}},
    "color": {"field": "series", "type": "nominal", "scale": {"domain": ["symptoms","all","symptomatic","confirmed","icu","deaths"], "range": ["#70AD47","#4352B8","#D2672E","#A5A5A5","#F5BA18","#5B8FD5"]}, "legend": {"title": null, "labelExpr": "{'symptoms':'Symptoms','all':'All cases','symptomatic':'Symptomatic cases','confirmed':'Confirmed cases','icu':'ICU cases','deaths':'Deaths'}[datum.label]"}}
   },
   "layer": [
    {"mark": {"type": "line", "clip": true, "strokeWidth": 1.8}},
    {"mark": {"type": "point", "filled": true, "size": 33, "opacity": 1, "clip": true}}
   ]},
  {"data": {"values": [{"letter": "G"}]}, "mark": {"type": "text", "fontSize": 13.5, "fontWeight": "bold", "align": "center", "baseline": "middle"},
   "encoding": {
    "x": {"datum": 6, "type": "quantitative", "axis": {"values": [0,10,20,30,40,50,60,70,80,90,100,110,120], "labelExpr": "datum.value % 30 === 0 ? datum.label : ''", "gridOpacity": {"condition": {"test": "datum.value % 30 === 0", "value": 1}, "value": 0}, "title": "Time (weeks)"}},
    "y": {"datum": 29000000, "type": "quantitative", "axis": {"values": [1,10,100,1000,10000,100000,1000000,10000000,100000000], "format": ",", "title": "Events"}},
    "color": {"value": "black"}, "text": {"field": "letter"}}}
 ]},
{"width": 297, "height": 226,
 "layer": [
  {"data": {"name": "H"},
   "transform": [{"fold": ["symptoms","all","symptomatic","confirmed","icu","deaths"], "as": ["series","value"]}, {"filter": "isValid(datum.value) && datum.value > 0"}],
   "encoding": {
    "x": {"field": "w", "type": "quantitative", "scale": {"domain": [0,120], "nice": false}, "axis": {"values": [0,10,20,30,40,50,60,70,80,90,100,110,120], "labelExpr": "datum.value % 30 === 0 ? datum.label : ''", "gridOpacity": {"condition": {"test": "datum.value % 30 === 0", "value": 1}, "value": 0}, "title": "Time (weeks)"}},
    "y": {"field": "value", "type": "quantitative", "scale": {"type": "log", "domain": [1,100000000], "nice": false}, "axis": {"values": [1,10,100,1000,10000,100000,1000000,10000000,100000000], "format": ",", "title": "Cumulative Events"}},
    "color": {"field": "series", "type": "nominal", "scale": {"domain": ["symptoms","all","symptomatic","confirmed","icu","deaths"], "range": ["#70AD47","#4352B8","#D2672E","#A5A5A5","#F5BA18","#5B8FD5"]}, "legend": {"title": null, "labelExpr": "{'symptoms':'Symptoms','all':'All cases','symptomatic':'Symptomatic cases','confirmed':'Confirmed cases','icu':'ICU cases','deaths':'Deaths'}[datum.label]"}}
   },
   "layer": [
    {"mark": {"type": "line", "clip": true, "strokeWidth": 1.8}},
    {"mark": {"type": "point", "filled": true, "size": 33, "opacity": 1, "clip": true}}
   ]},
  {"data": {"values": [{"letter": "H"}]}, "mark": {"type": "text", "fontSize": 13.5, "fontWeight": "bold", "align": "center", "baseline": "middle"},
   "encoding": {
    "x": {"datum": 6, "type": "quantitative", "axis": {"values": [0,10,20,30,40,50,60,70,80,90,100,110,120], "labelExpr": "datum.value % 30 === 0 ? datum.label : ''", "gridOpacity": {"condition": {"test": "datum.value % 30 === 0", "value": 1}, "value": 0}, "title": "Time (weeks)"}},
    "y": {"datum": 29000000, "type": "quantitative", "axis": {"values": [1,10,100,1000,10000,100000,1000000,10000000,100000000], "format": ",", "title": "Cumulative Events"}},
    "color": {"value": "black"}, "text": {"field": "letter"}}}
 ]}
],
"config": {
 "font": "Lato",
 "view": {"stroke": null},
 "axis": {"labelFont": "Lato", "labelFontWeight": "bold", "labelFontSize": 9.3, "labelColor": "#000000", "domainColor": "#404040", "domainWidth": 1, "tickColor": "#404040", "gridColor": "#D9D9D9", "gridWidth": 1, "labelFlush": false, "labelOverlap": false, "titleFont": "Lato"},
 "axisX": {"tickSize": 4, "labelPadding": 6, "titleFontWeight": "bold", "titleFontSize": 13, "titleColor": "#595959", "titlePadding": 7},
 "axisY": {"tickSize": 3, "labelPadding": 3, "titleFontWeight": "normal", "titleFontSize": 13, "titleColor": "#262626", "titleX": -51, "titleBaseline": "middle"},
 "legend": {"orient": "none", "legendX": 182, "legendY": 5, "fillColor": "#F2F2F2", "strokeColor": "#404040", "strokeWidth": 1.2, "padding": 2.5, "symbolType": "M-2,-0.16L2,-0.16L2,0.16L-2,0.16Z M0.47,0A0.47,0.47 0 1,1 -0.47,0A0.47,0.47 0 1,1 0.47,0Z", "symbolSize": 161, "symbolOffset": 7, "symbolStrokeWidth": 0, "symbolOpacity": 1, "labelFont": "Lato", "labelFontSize": 9, "labelColor": "#404040", "labelOffset": 10, "rowPadding": 0.5},
 "title": {"font": "Lato", "fontSize": 14, "fontWeight": "bold", "color": "#000000", "anchor": "middle", "frame": "group", "baseline": "alphabetic", "offset": 4}
}
}
